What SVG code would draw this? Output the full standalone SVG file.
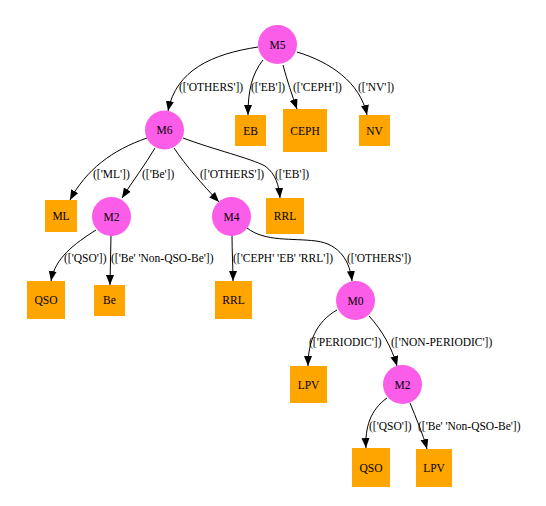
<svg xmlns="http://www.w3.org/2000/svg" width="546" height="506" viewBox="0 0 546 506">
<style>
.bg{fill:#ffffff}
.m{fill:#fb5de8;stroke:none}
.leaf{fill:#ffa500;stroke:none}
text{font-family:"Liberation Serif","Times New Roman",serif;font-size:11.5px;fill:#000}
.nl{text-anchor:middle}
.e{fill:none;stroke:#000;stroke-width:1;marker-end:url(#ah)}
</style>
<defs>
<marker id="ah" markerUnits="userSpaceOnUse" markerWidth="12" markerHeight="10" refX="10" refY="4" orient="auto">
<path d="M0,0 L10,4 L0,8 Z" fill="#000"/>
</marker>
</defs>
<rect class="bg" x="0" y="0" width="546" height="506"/>
<g id="connectors">
<path class="e" d="M258,47 C212,54 176,70 168,111"/>
<path class="e" d="M263,60 C252,74 248,90 248,115"/>
<path class="e" d="M283,65 C287,80 292,95 297,109"/>
<path class="e" d="M297,52 C330,62 360,82 367,115"/>
<path class="e" d="M147,138 C112,150 86,170 70,200"/>
<path class="e" d="M155,148 C145,165 132,182 122,198"/>
<path class="e" d="M174,148 C186,166 202,184 219,202"/>
<path class="e" d="M183,138 C215,150 250,158 265,166 C276,174 279,186 280,198"/>
<path class="e" d="M96,230 C74,244 55,258 51,281"/>
<path class="e" d="M111,235 C111,252 110,268 110,285"/>
<path class="e" d="M232,235 C232,252 233,266 233,281"/>
<path class="e" d="M247,228 C265,242 292,238 316,241 C340,244 350,262 352,281"/>
<path class="e" d="M337,310 C316,322 308,342 308,366"/>
<path class="e" d="M369,316 C382,330 392,348 397,366"/>
<path class="e" d="M387,398 C370,410 365,428 366,448"/>
<path class="e" d="M410,403 C416,418 423,434 427,449"/>
</g>
<g id="labels">
<text x="179" y="91">(['OTHERS'])</text>
<text x="251" y="91">(['EB'])</text>
<text x="293" y="91">(['CEPH'])</text>
<text x="358" y="91">(['NV'])</text>
<text x="93" y="178">(['ML'])</text>
<text x="142" y="178">(['Be'])</text>
<text x="200" y="178">(['OTHERS'])</text>
<text x="275" y="178">(['EB'])</text>
<text x="64" y="262">(['QSO'])</text>
<text x="111" y="262">(['Be' 'Non-QSO-Be'])</text>
<text x="233" y="262">(['CEPH' 'EB' 'RRL'])</text>
<text x="347" y="262">(['OTHERS'])</text>
<text x="309" y="346">(['PERIODIC'])</text>
<text x="391" y="346">(['NON-PERIODIC'])</text>
<text x="369" y="430">(['QSO'])</text>
<text x="418" y="430">(['Be' 'Non-QSO-Be'])</text>
</g>
<g id="M5"><circle class="m" cx="277.5" cy="44.5" r="19.5"/><text class="nl" x="277.5" y="48.5">M5</text></g>
<g id="M6"><circle class="m" cx="164.5" cy="130" r="19.5"/><text class="nl" x="164.5" y="134">M6</text></g>
<g id="EB"><rect class="leaf" x="235" y="115" width="31" height="31"/><text class="nl" x="250.5" y="134.5">EB</text></g>
<g id="CEPH"><rect class="leaf" x="283" y="109" width="44" height="43"/><text class="nl" x="305" y="134.5">CEPH</text></g>
<g id="NV"><rect class="leaf" x="359" y="115" width="31" height="31"/><text class="nl" x="374.5" y="134.5">NV</text></g>
<g id="ML"><rect class="leaf" x="45" y="200" width="32" height="32"/><text class="nl" x="61" y="220">ML</text></g>
<g id="M2a"><circle class="m" cx="111.5" cy="216.5" r="19.5"/><text class="nl" x="111.5" y="220.5">M2</text></g>
<g id="M4"><circle class="m" cx="231.5" cy="216.5" r="19.5"/><text class="nl" x="231.5" y="220.5">M4</text></g>
<g id="RRL1"><rect class="leaf" x="266" y="198" width="38" height="36"/><text class="nl" x="285" y="220">RRL</text></g>
<g id="QSO1"><rect class="leaf" x="27" y="281" width="38" height="38"/><text class="nl" x="46" y="304">QSO</text></g>
<g id="Be"><rect class="leaf" x="94" y="285" width="31" height="31"/><text class="nl" x="109.5" y="304">Be</text></g>
<g id="RRL2"><rect class="leaf" x="215" y="281" width="37" height="38"/><text class="nl" x="233.5" y="304">RRL</text></g>
<g id="M0"><circle class="m" cx="355.5" cy="300.5" r="19.5"/><text class="nl" x="355.5" y="304.5">M0</text></g>
<g id="LPV1"><rect class="leaf" x="290" y="366" width="37" height="37"/><text class="nl" x="308.5" y="388.5">LPV</text></g>
<g id="M2b"><circle class="m" cx="402.5" cy="384.5" r="19.5"/><text class="nl" x="402.5" y="388.5">M2</text></g>
<g id="QSO2"><rect class="leaf" x="352" y="448" width="38" height="39"/><text class="nl" x="371" y="471.5">QSO</text></g>
<g id="LPV2"><rect class="leaf" x="416" y="449" width="36" height="38"/><text class="nl" x="434" y="471.5">LPV</text></g>
</svg>
